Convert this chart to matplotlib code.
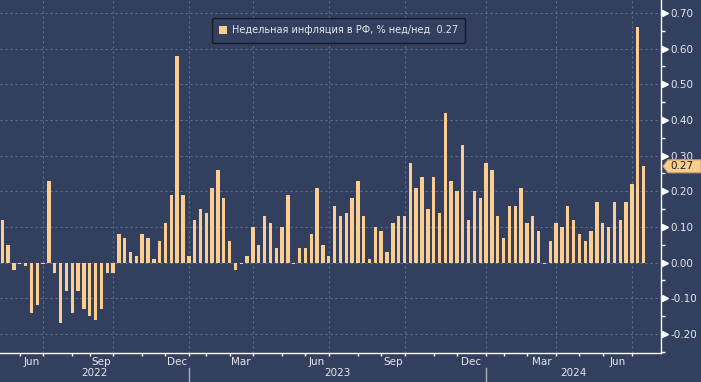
import matplotlib
matplotlib.use("Agg")
import matplotlib.pyplot as plt
import matplotlib.transforms as mtransforms
from matplotlib.patches import Patch, Polygon
import numpy as np

# weekly CPI, % w/w (one value per Rosstat release, mid-May 2022 .. mid-Jul 2024)
weekly_cpi = [
    0.12, 0.05, -0.02, -0.004, -0.01, -0.14, -0.12, -0.004, 0.23, -0.03,
    -0.17, -0.08, -0.14, -0.08, -0.13, -0.15, -0.16, -0.13, -0.03, -0.03,
    0.08, 0.07, 0.03, 0.02, 0.08, 0.07, 0.01, 0.06, 0.11, 0.19,
    0.58, 0.19, 0.02, 0.12, 0.15, 0.14, 0.21, 0.26, 0.18, 0.06,
    -0.02, -0.004, 0.02, 0.10, 0.05, 0.13, 0.11, 0.04, 0.10, 0.19,
    -0.004, 0.04, 0.04, 0.08, 0.21, 0.05, 0.02, 0.16, 0.13, 0.14,
    0.18, 0.23, 0.13, 0.01, 0.10, 0.09, 0.03, 0.11, 0.13, 0.13,
    0.28, 0.21, 0.24, 0.15, 0.24, 0.14, 0.42, 0.23, 0.20, 0.33,
    0.12, 0.20, 0.18, 0.28, 0.26, 0.13, 0.07, 0.16, 0.16, 0.21,
    0.11, 0.13, 0.09, -0.004, 0.06, 0.11, 0.10, 0.16, 0.12, 0.08,
    0.06, 0.09, 0.17, 0.11, 0.10, 0.17, 0.12, 0.17, 0.22, 0.66,
    0.27,
]

# first release of each month (index into weekly_cpi)
month_start_idx = [3, 7, 12, 15, 19, 24, 28, 32, 35, 39, 43, 48, 52,
                   56, 61, 65, 69, 74, 78, 83, 86, 90, 95, 99, 103, 108]
month_names = ['Jun', 'Jul', 'Aug', 'Sep', 'Oct', 'Nov', 'Dec',
               'Jan', 'Feb', 'Mar', 'Apr', 'May', 'Jun',
               'Jul', 'Aug', 'Sep', 'Oct', 'Nov', 'Dec',
               'Jan', 'Feb', 'Mar', 'Apr', 'May', 'Jun', 'Jul']
labelled_months = ['Mar', 'Jun', 'Sep', 'Dec']
quarter_months = ['Jan', 'Apr', 'Jul', 'Oct']
years = ['2022', '2023', '2024']

series_name = 'Недельная инфляция в РФ, % нед/нед'

BG = '#323f5e'
GRID = '#5d6d8e'
BAR = '#fbcd8e'
FG = '#e8e8ec'

W, H = 701, 382
fig = plt.figure(figsize=(W / 100, H / 100), dpi=100)
fig.patch.set_facecolor(BG)

ax_bottom_px = 353.3
ax_right_px = 661
ax = fig.add_axes([0, 1 - ax_bottom_px / H, ax_right_px / W, ax_bottom_px / H])
ax.set_facecolor(BG)

x = np.arange(len(weekly_cpi))
bars = ax.bar(x, weekly_cpi, width=0.58, color=BAR, linewidth=0, zorder=3)

xmin, xmax = -0.39, 113.0
ax.set_xlim(xmin, xmax)
ax.set_ylim(-0.254, 0.736)

# grid
yt = np.round(np.arange(-0.2, 0.71, 0.1), 2)
for v in yt:
    ax.axhline(v, color=GRID, lw=0.8, ls=(0, (2, 2.5)), zorder=1)
for i, m in zip(month_start_idx, month_names):
    if m in quarter_months:
        ax.axvline(i, color=GRID, lw=0.8, ls=(0, (2, 2.5)), zorder=1)

# spines
for s in ['left', 'top']:
    ax.spines[s].set_visible(False)
for s in ['right', 'bottom']:
    ax.spines[s].set_color('white')
    ax.spines[s].set_linewidth(1.0)

# right y axis
ax.yaxis.tick_right()
ax.set_yticks(yt)
ax.set_yticklabels([f'{v:.2f}' for v in yt])
ax.set_yticks(np.round(np.arange(-0.25, 0.70, 0.1), 2), minor=True)
ax.tick_params(axis='y', which='major', length=3, width=1, color='white',
               pad=4, labelsize=7.5, labelcolor=FG)
ax.tick_params(axis='y', which='minor', length=3, width=1, color='white')
tri_tr = mtransforms.blended_transform_factory(ax.transAxes, ax.transData)
ax.plot(np.full(len(yt), 1.006), yt, ls='none', marker='>', ms=4,
        color='white', transform=tri_tr, clip_on=False, zorder=5)

# bottom axis: month ticks, month / year labels
ax.set_xticks(month_start_idx)
ax.set_xticklabels([])
ax.tick_params(axis='x', which='major', length=2.5, width=1, color='white')
lab_tr = mtransforms.blended_transform_factory(ax.transData, ax.transAxes)
for k, (i, m) in enumerate(zip(month_start_idx, month_names)):
    if m in labelled_months and k + 1 < len(month_start_idx):
        mid = (i + month_start_idx[k + 1]) / 2
        ax.text(mid, -0.024, m, transform=lab_tr, ha='center', va='center',
                fontsize=7.5, color=FG)

year_bounds = [xmin] + [i for i, m in zip(month_start_idx, month_names) if m == 'Jan'] + [xmax]
for k, yr in enumerate(years):
    ax.text((year_bounds[k] + year_bounds[k + 1]) / 2, -0.057, yr, transform=lab_tr,
            ha='center', va='center', fontsize=7.5, color=FG)
for b in year_bounds[1:-1]:
    ax.plot([b, b], [-0.042, -0.085], transform=lab_tr, color='#aab2c4', lw=1,
            clip_on=False)

# legend
last = weekly_cpi[-1]
leg = ax.legend([Patch(facecolor=BAR, edgecolor='none')],
                [f'{series_name}  {last:.2f}'],
                loc='upper left', bbox_to_anchor=(212 / W, 1 - 18 / H),
                bbox_transform=fig.transFigure, borderaxespad=0,
                fontsize=7.0, handlelength=0.8, handleheight=1.0,
                handletextpad=0.5, borderpad=0.75, fancybox=True,
                framealpha=1, facecolor=BG, edgecolor='#141a28')
leg.get_frame().set_linewidth(1.0)
for t in leg.get_texts():
    t.set_color(FG)

# last value tag on the right axis
y_last = ax.transData.transform((0, last))[1]
tag = Polygon([(663, y_last), (668, y_last + 6.5), (W, y_last + 6.5),
               (W, y_last - 6.5), (668, y_last - 6.5)], closed=True,
              facecolor=BAR, edgecolor='#c9a060', lw=0.8,
              transform=mtransforms.IdentityTransform(), zorder=10)
fig.patches.append(tag)
fig.text(670 / W, y_last / H, f'{last:.2f}', ha='left', va='center',
         fontsize=7.5, color='#1e1e1e', zorder=11)

fig.savefig('out.png', dpi=100, facecolor=BG)
